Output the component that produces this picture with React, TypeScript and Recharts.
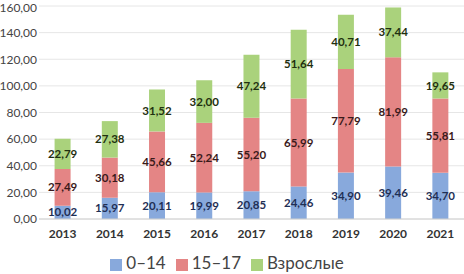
import { BarChart, Bar, XAxis, YAxis, CartesianGrid, Legend, LabelList } from "recharts";

const years = ["2013", "2014", "2015", "2016", "2017", "2018", "2019", "2020", "2021"];
const kids = [10.02, 15.97, 20.11, 19.99, 20.85, 24.46, 34.9, 39.46, 34.7];
const teens = [27.49, 30.18, 45.66, 52.24, 55.2, 65.99, 77.79, 81.99, 55.81];
const adults = [22.79, 27.38, 31.52, 32.0, 47.24, 51.64, 40.71, 37.44, 19.65];
const yTicks = [0, 20, 40, 60, 80, 100, 120, 140, 160];

const data = years.map((y, i) => ({ year: y, kids: kids[i], teens: teens[i], adults: adults[i] }));

const fmt = (v: number) => v.toFixed(2).replace(".", ",");
const font = "Lato, 'Liberation Sans', sans-serif";

export default function App() {
  return (
    <div style={{ position: "fixed", top: 0, left: 0, background: "#fff", fontFamily: font }}>
      <BarChart width={464} height={274} data={data} barCategoryGap="33%" margin={{ top: 6, right: 0, left: 0, bottom: 0 }}>
        <CartesianGrid vertical={false} stroke="#e6e6e6" />
        <XAxis
          dataKey="year"
          axisLine={{ stroke: "#d0d0d0" }}
          tickLine={false}
          height={33}
          tickMargin={4}
          tick={{ fontSize: 12, fontWeight: 700, fill: "#333", fontFamily: font }}
        />
        <YAxis
          domain={[0, 160]}
          ticks={yTicks}
          width={39}
          axisLine={false}
          tickLine={false}
          tickSize={0}
          tickMargin={2}
          tickFormatter={fmt}
          tick={{ fontSize: 12, fill: "#444", fontFamily: font }}
        />
        <Legend
          verticalAlign="bottom"
          iconType="square"
          iconSize={12}
          height={22}
          formatter={(v) => <span style={{ color: "#444", fontSize: 17, fontFamily: font }}>{v}</span>}
        />
        <Bar dataKey="kids" name="0–14" stackId="a" fill="#88a9dc" isAnimationActive={false}>
          <LabelList dataKey="kids" position="center" formatter={fmt} style={{ fontSize: 11.5, fontWeight: 700, fill: "#1f2f55", fontFamily: font }} />
        </Bar>
        <Bar dataKey="teens" name="15–17" stackId="a" fill="#e48585" isAnimationActive={false}>
          <LabelList dataKey="teens" position="center" formatter={fmt} style={{ fontSize: 11.5, fontWeight: 700, fill: "#3a1a1a", fontFamily: font }} />
        </Bar>
        <Bar dataKey="adults" name="Взрослые" stackId="a" fill="#aad27c" isAnimationActive={false}>
          <LabelList dataKey="adults" position="center" formatter={fmt} style={{ fontSize: 11.5, fontWeight: 700, fill: "#1f3010", fontFamily: font }} />
        </Bar>
      </BarChart>
    </div>
  );
}
